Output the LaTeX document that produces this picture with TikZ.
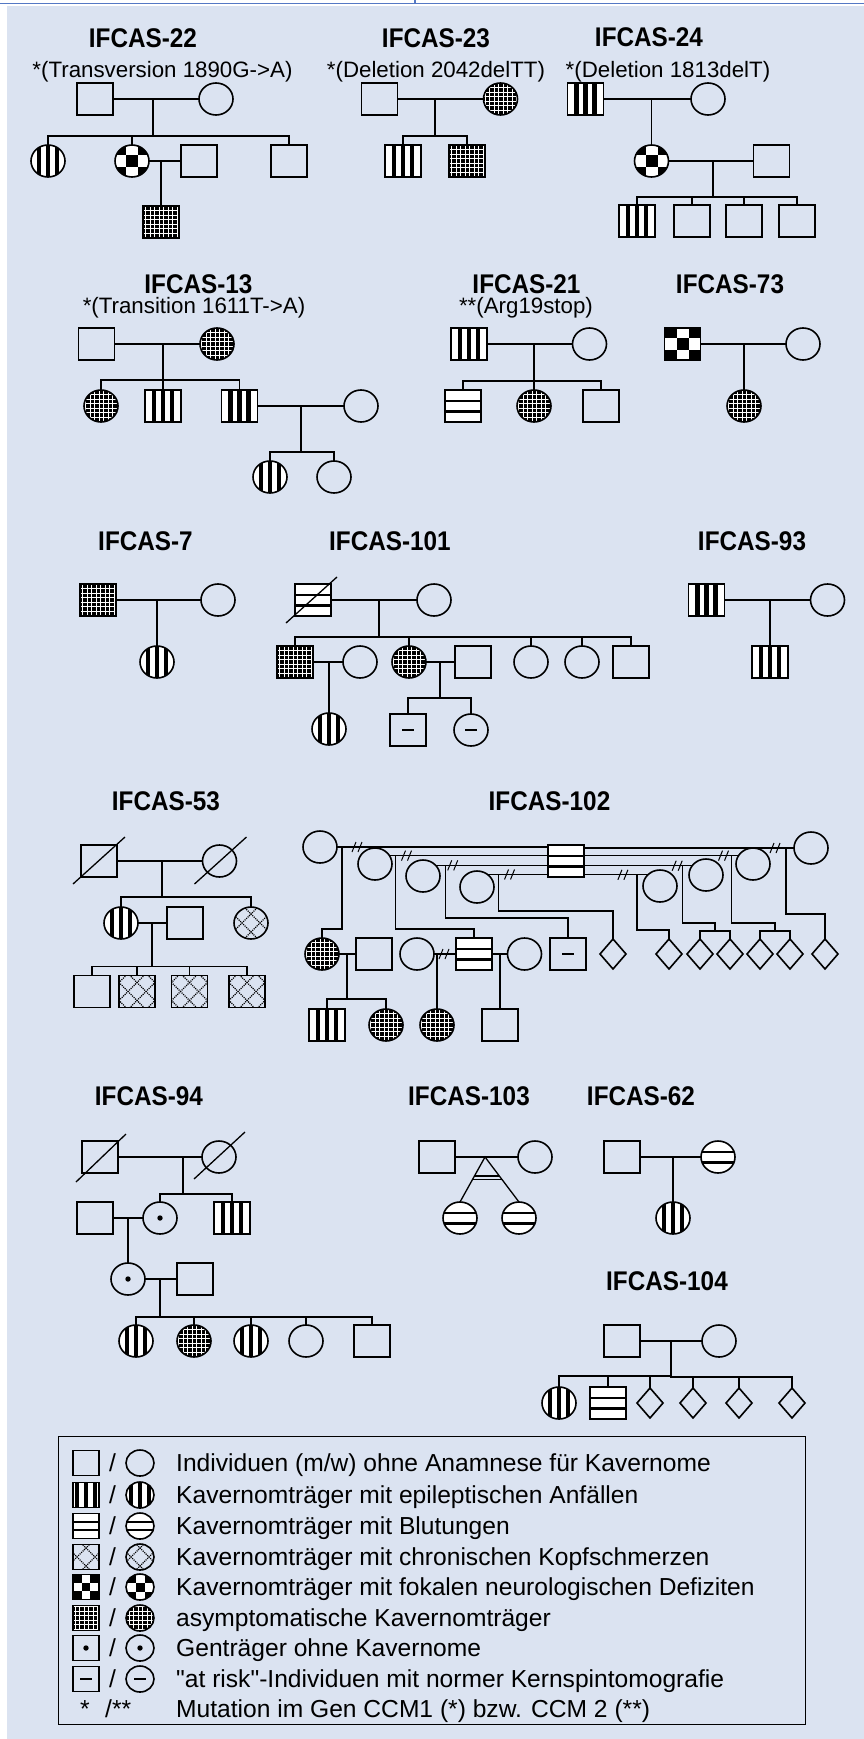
\documentclass[tikz,border=0pt]{standalone}
\usepackage{fontspec}
\setmainfont{Liberation Sans}
\newfontfamily\qfont{Liberation Sans}
\newfontfamily\ttlfont{Liberation Sans Bold}[FakeStretch=0.9]
\usetikzlibrary{shapes.geometric, calc}
\definecolor{bgblue}{RGB}{219,227,241}
\definecolor{rulblue}{RGB}{84,120,196}

\begin{document}
\begin{tikzpicture}[x=1pt, y=-1pt,
    sym/.style={draw, line width=1.6pt, inner sep=0pt, outer sep=0pt},
    male/.style={sym, rectangle, minimum width=36pt, minimum height=32pt},
    fem/.style={sym, ellipse, minimum width=34pt, minimum height=32pt},
    unk/.style={sym, diamond, minimum width=26pt, minimum height=30pt},
    lmale/.style={sym, rectangle, minimum width=26pt, minimum height=25pt},
    lfem/.style={sym, ellipse, minimum width=28pt, minimum height=26pt},
    epi/.style={fill=white, path picture={
        \foreach \d in {-9,0,9}
          \fill[black] ([xshift=\d-2.2]path picture bounding box.north) rectangle ([xshift=\d+2.2]path picture bounding box.south);}},
    bleed/.style={fill=white, path picture={
        \draw[black, line width=2.4pt] ([yshift=#1]path picture bounding box.west) -- ([yshift=#1]path picture bounding box.east)
          ([yshift=-#1]path picture bounding box.west) -- ([yshift=-#1]path picture bounding box.east);}},
    bleed/.default=5.3,
    focal/.style={fill=white, path picture={
        \foreach \i/\j in {-1/-1,1/-1,0/0,-1/1,1/1}
          \fill[black] ([xshift=\i*#1-#1/2, yshift=\j*#1-#1/2]path picture bounding box.center) rectangle ++(#1pt,#1pt);}},
    focal/.default=12,
    asym/.style={fill=black, path picture={
        \foreach \k in {-20,-15.5,...,20} {
          \draw[white, line width=0.85pt] ([xshift=\k]path picture bounding box.north) -- ([xshift=\k]path picture bounding box.south);
          \draw[white, line width=0.85pt] ([yshift=\k]path picture bounding box.west) -- ([yshift=\k]path picture bounding box.east);}}},
    ache/.style={path picture={
        \foreach \c in {-27,-9,9,27} {
          \draw[black, densely dotted, line width=1.1pt] ([xshift=\c-30, yshift=-30]path picture bounding box.center) -- ([xshift=\c+30, yshift=30]path picture bounding box.center);
          \draw[black, densely dotted, line width=1.1pt] ([xshift=\c-30, yshift=30]path picture bounding box.center) -- ([xshift=\c+30, yshift=-30]path picture bounding box.center);}}},
    carrier/.style={path picture={\fill[black] (path picture bounding box.center) circle (2.7pt);}},
    risk/.style={path picture={\draw[black, line width=1.6pt] ([xshift=-6]path picture bounding box.center) -- ([xshift=6]path picture bounding box.center);}},
    ln/.style={line width=1.3pt},
    brk/.pic={\draw[line width=1pt] (-5,5) -- (-1,-5) (1,5) -- (5,-5);},
    ttl/.style={font=\fontsize{27}{30}\ttlfont, inner sep=0pt, anchor=base},
    note/.style={font=\fontsize{22.3}{26}\selectfont, inner sep=0pt, anchor=base},
    lgd/.style={font=\fontsize{24.6}{28}\selectfont, inner sep=0pt, anchor=base west}
  ]
  \useasboundingbox (0,0) rectangle (864,1739);
  \fill[white] (0,0) rectangle (864,1739);
  \fill[bgblue] (7,6) rectangle (864,1739);
  \draw[rulblue, line width=1.2pt] (0,3.5) -- (864,3.5) (415,0) -- (415,3.5);

  % IFCAS-22
  \node[ttl] (t22) at (143,48) {IFCAS-22};
  \node[note] (n22) at (162.5,78) {*(Transversion 1890G->A)};
  \node[male] (a22f) at (95,99) {};
  \node[fem] (a22m) at (216,99) {};
  \node[fem, epi] (a22c1) at (48,161) {};
  \node[fem, focal] (a22c2) at (132,161) {};
  \node[male] (a22s) at (199,161) {};
  \node[male] (a22c3) at (289,161) {};
  \node[male, asym] (a22g) at (161,222) {};
  \coordinate (a22j) at (153,99);
  \coordinate (a22k) at (161,161);
  \draw[ln] (a22f) -- (a22m) (a22c2) -- (a22s);
  \draw[ln] (a22j) |- ([yshift=9]a22c1.north) -- (a22c1.north);
  \draw[ln] (a22j) |- ([yshift=9]a22c3.north) -- (a22c3.north);
  \draw[ln] (a22c2.north) -- ++(0,-9);
  \draw[ln] (a22k) -- (a22g.north);

  % IFCAS-23
  \node[ttl] (t23) at (436,48) {IFCAS-23};
  \node[note] (n23) at (436,78) {*(Deletion 2042delTT)};
  \node[male] (b23f) at (379.5,99) {};
  \node[fem, asym] (b23m) at (500.5,99) {};
  \node[male, epi] (b23c1) at (403,161) {};
  \node[male, asym] (b23c2) at (467,161) {};
  \coordinate (b23j) at (435,99);
  \draw[ln] (b23f) -- (b23m);
  \draw[ln] (b23j) |- ([yshift=9]b23c1.north) -- (b23c1.north);
  \draw[ln] (b23j) |- ([yshift=9]b23c2.north) -- (b23c2.north);

  % IFCAS-24
  \node[ttl] (t24) at (649,47) {IFCAS-24};
  \node[note] (n24) at (668,78) {*(Deletion 1813delT)};
  \node[male, epi] (c24f) at (585.5,99) {};
  \node[fem] (c24m) at (708,99) {};
  \node[fem, focal] (c24d) at (651.5,161) {};
  \node[male] (c24s) at (771.5,161) {};
  \node[male, epi] (c24c1) at (637,221) {};
  \node[male] (c24c2) at (692,221) {};
  \node[male] (c24c3) at (744,221) {};
  \node[male] (c24c4) at (797,221) {};
  \coordinate (c24j) at (651.5,99);
  \coordinate (c24k) at (713,161);
  \draw[ln] (c24f) -- (c24m) (c24d) -- (c24s);
  \draw[ln] (c24j) -- (c24d.north);
  \draw[ln] (c24k) |- ([yshift=8]c24c1.north) -- (c24c1.north);
  \draw[ln] (c24k) |- ([yshift=8]c24c4.north) -- (c24c4.north);
  \draw[ln] (c24c2.north) -- ++(0,-8) (c24c3.north) -- ++(0,-8);

  % IFCAS-13
  \node[ttl] (t13) at (198.5,293) {IFCAS-13};
  \node[note] (n13) at (194,313) {*(Transition 1611T->A)};
  \node[male] (d13f) at (96.5,344) {};
  \node[fem, asym] (d13m) at (217,344) {};
  \node[fem, asym] (d13c1) at (101,406) {};
  \node[male, epi] (d13c2) at (163,406) {};
  \node[male, epi] (d13c3) at (239.5,406) {};
  \node[fem] (d13s) at (361,406) {};
  \node[fem, epi] (d13g1) at (270,477) {};
  \node[fem] (d13g2) at (334,477) {};
  \coordinate (d13j) at (163,344);
  \coordinate (d13k) at (301,406);
  \draw[ln] (d13f) -- (d13m) (d13c3) -- (d13s);
  \draw[ln] (d13j) |- ([yshift=10]d13c1.north) -- (d13c1.north);
  \draw[ln] (d13j) |- ([yshift=10]d13c3.north) -- (d13c3.north);
  \draw[ln] (d13c2.north) -- ++(0,-10);
  \draw[ln] (d13k) |- ([yshift=9]d13g1.north) -- (d13g1.north);
  \draw[ln] (d13k) |- ([yshift=9]d13g2.north) -- (d13g2.north);

  % IFCAS-21
  \node[ttl] (t21) at (526.5,293) {IFCAS-21};
  \node[note] (n21) at (526,313) {**(Arg19stop)};
  \node[male, epi] (e21f) at (469,344) {};
  \node[fem] (e21m) at (589.5,344) {};
  \node[male, bleed] (e21c1) at (463,406) {};
  \node[fem, asym] (e21c2) at (534,406) {};
  \node[male] (e21c3) at (601,406) {};
  \coordinate (e21j) at (534,344);
  \draw[ln] (e21f) -- (e21m);
  \draw[ln] (e21j) |- ([yshift=9]e21c1.north) -- (e21c1.north);
  \draw[ln] (e21j) |- ([yshift=9]e21c3.north) -- (e21c3.north);
  \draw[ln] (e21j) -- (e21c2.north);

  % IFCAS-73
  \node[ttl] (t73) at (730,293) {IFCAS-73};
  \node[male, focal] (g73f) at (682.5,344) {};
  \node[fem] (g73m) at (803,344) {};
  \node[fem, asym] (g73c) at (744,406) {};
  \coordinate (g73j) at (744,344);
  \draw[ln] (g73f) -- (g73m);
  \draw[ln] (g73j) -- (g73c.north);

  % IFCAS-7
  \node[ttl] (t7) at (145.5,550) {IFCAS-7};
  \node[male, asym] (h7f) at (98,600) {};
  \node[fem] (h7m) at (218,600) {};
  \node[fem, epi] (h7c) at (157,662) {};
  \coordinate (h7j) at (157,600);
  \draw[ln] (h7f) -- (h7m);
  \draw[ln] (h7j) -- (h7c.north);

  % IFCAS-101
  \node[ttl] (t101) at (390,550) {IFCAS-101};
  \node[male, bleed] (i101f) at (313,600) {};
  \node[fem] (i101m) at (434,600) {};
  \node[male, asym] (i101c1) at (295,662) {};
  \node[fem] (i101s1) at (360,662) {};
  \node[fem, asym] (i101c2) at (409,662) {};
  \node[male] (i101s2) at (473,662) {};
  \node[fem] (i101c3) at (531,662) {};
  \node[fem] (i101c4) at (582,662) {};
  \node[male] (i101c5) at (631,662) {};
  \node[fem, epi] (i101g1) at (329,729) {};
  \node[male, risk] (i101g2) at (408,730) {};
  \node[fem, risk] (i101g3) at (471,730) {};
  \coordinate (i101j) at (379,600);
  \coordinate (i101k) at (329,662);
  \coordinate (i101l) at (440,662);
  \draw[ln] (i101f) -- (i101m) (i101c1) -- (i101s1) (i101c2) -- (i101s2);
  \draw[ln] ([shift={(-27,23)}]i101f.center) -- ([shift={(24,-23)}]i101f.center);
  \draw[ln] (i101j) |- ([yshift=9]i101c1.north) -- (i101c1.north);
  \draw[ln] (i101j) |- ([yshift=9]i101c5.north) -- (i101c5.north);
  \draw[ln] (i101c2.north) -- ++(0,-9) (i101c3.north) -- ++(0,-9) (i101c4.north) -- ++(0,-9);
  \draw[ln] (i101k) -- (i101g1.north);
  \draw[ln] (i101l) |- ([yshift=16]i101g2.north) -- (i101g2.north);
  \draw[ln] (i101l) |- ([yshift=16]i101g3.north) -- (i101g3.north);

  % IFCAS-93
  \node[ttl] (t93) at (752,550) {IFCAS-93};
  \node[male, epi] (j93f) at (706.5,600) {};
  \node[fem] (j93m) at (827.5,600) {};
  \node[male, epi] (j93c) at (770,662) {};
  \coordinate (j93j) at (770,600);
  \draw[ln] (j93f) -- (j93m);
  \draw[ln] (j93j) -- (j93c.north);

  % IFCAS-53
  \node[ttl] (t53) at (166,810) {IFCAS-53};
  \node[male] (k53f) at (99,861) {};
  \node[fem] (k53m) at (219.5,861) {};
  \node[fem, epi] (k53c1) at (121,923) {};
  \node[male] (k53s) at (185,923) {};
  \node[fem, ache] (k53c2) at (251,923) {};
  \node[male] (k53g1) at (92,991.5) {};
  \node[male, ache] (k53g2) at (137,991.5) {};
  \node[male, ache] (k53g3) at (189.5,991.5) {};
  \node[male, ache] (k53g4) at (247,991.5) {};
  \coordinate (k53j) at (162,861);
  \coordinate (k53k) at (152,923);
  \draw[ln] (k53f) -- (k53m) (k53c1) -- (k53s);
  \draw[ln] ([shift={(-26,23)}]k53f.center) -- ([shift={(26,-24)}]k53f.center);
  \draw[ln] ([shift={(-25,23)}]k53m.center) -- ([shift={(27,-24)}]k53m.center);
  \draw[ln] (k53j) |- ([yshift=10]k53c1.north) -- (k53c1.north);
  \draw[ln] (k53j) |- ([yshift=10]k53c2.north) -- (k53c2.north);
  \draw[ln] (k53k) |- ([yshift=9]k53g1.north) -- (k53g1.north);
  \draw[ln] (k53k) |- ([yshift=9]k53g4.north) -- (k53g4.north);
  \draw[ln] (k53g2.north) -- ++(0,-9) (k53g3.north) -- ++(0,-9);

  % IFCAS-102
  \node[ttl] (t102) at (549.5,810) {IFCAS-102};
  \node[male, bleed] (m102) at (566,861) {};
  \node[fem] (cA) at (320,847) {};
  \node[fem] (cB) at (375,864) {};
  \node[fem] (cC) at (423,876) {};
  \node[fem] (cD) at (477,887) {};
  \node[fem] (cE) at (660,886) {};
  \node[fem] (cG) at (706,875) {};
  \node[fem] (cF) at (753,864) {};
  \node[fem] (cH) at (811,848) {};
  \draw[ln] (cA.east) -- (cA.east -| m102.west) (cB.30) -- (cB.30 -| m102.west)
    (cC.40) -- (cC.40 -| m102.west) (cD.50) -- (cD.50 -| m102.west);
  \draw[ln] (cH.west) -- (cH.west -| m102.east) (cF.150) -- (cF.150 -| m102.east)
    (cG.146) -- (cG.146 -| m102.east) (cE.137) -- (cE.137 -| m102.east);
  \pic at ([xshift=20]cA.east) {brk};
  \pic at ([xshift=17]cB.30) {brk};
  \pic at ([xshift=17]cC.40) {brk};
  \pic at ([xshift=22]cD.50) {brk};
  \pic at ([xshift=-25]cE.137) {brk};
  \pic at ([xshift=-15]cG.146) {brk};
  \pic at ([xshift=-15]cF.150) {brk};
  \pic at ([xshift=-19]cH.west) {brk};
  \node[fem, asym] (n1) at (322,954) {};
  \node[male] (n2) at (374,954) {};
  \node[fem] (n3) at (417,954) {};
  \node[male, bleed] (n4) at (474,954) {};
  \node[fem] (n5) at (524.5,954) {};
  \node[male, risk] (n6) at (568,954) {};
  \node[unk] (p1) at (613,954) {};
  \node[unk] (p2) at (669,954) {};
  \node[unk] (p3) at (700,954) {};
  \node[unk] (p4) at (730,954) {};
  \node[unk] (p5) at (760,954) {};
  \node[unk] (p6) at (790,954) {};
  \node[unk] (p7) at (825,954) {};
  \node[male, epi] (r1) at (327,1025) {};
  \node[fem, asym] (r2) at (386,1025) {};
  \node[fem, asym] (r3) at (437,1025) {};
  \node[male] (r4) at (500,1025) {};
  \draw[ln] ([xshift=5]cA.east) |- ([yshift=9]n1.north) -- (n1.north);
  \draw[ln] ([xshift=6]cB.30) |- ([yshift=9]n4.north) -- (n4.north);
  \draw[ln] ([xshift=10]cC.40) |- ([yshift=20]n6.north) -- (n6.north);
  \draw[ln] ([xshift=11]cD.50) |- ([yshift=28]p1.north) -- (p1.north);
  \draw[ln] ([xshift=-11]cE.137) |- ([yshift=9]p2.north) -- (p2.north);
  \draw[ln] ([xshift=-10]cG.146) |- ([yshift=16]$(p3.north)!0.5!(p4.north)$) -- ++(0,8);
  \draw[ln] (p3.north) |- ([yshift=8]p4.north) -- (p4.north);
  \draw[ln] ([xshift=-7]cF.150) |- ([yshift=16]$(p5.north)!0.5!(p6.north)$) -- ++(0,8);
  \draw[ln] (p5.north) |- ([yshift=8]p6.north) -- (p6.north);
  \draw[ln] ([xshift=-8]cH.west) |- ([yshift=25]p7.north) -- (p7.north);
  \coordinate (n12) at (347,954);
  \coordinate (n34) at (437,954);
  \coordinate (n45) at (500,954);
  \draw[ln] (n1) -- (n2) (n3) -- (n4) (n4) -- (n5);
  \pic at (444,954) {brk};
  \draw[ln] (n12) |- ([yshift=10]r1.north) -- (r1.north);
  \draw[ln] (n12) |- ([yshift=10]r2.north) -- (r2.north);
  \draw[ln] (n34) -- (r3.north);
  \draw[ln] (n45) -- (r4.north);

  % IFCAS-94
  \node[ttl] (t94) at (149,1105) {IFCAS-94};
  \node[male] (l94f) at (100,1157) {};
  \node[fem] (l94m) at (219,1157) {};
  \node[male] (l94s) at (95,1218) {};
  \node[fem, carrier] (l94c1) at (160,1218) {};
  \node[male, epi] (l94c2) at (232,1218) {};
  \node[fem, carrier] (l94d) at (128,1279) {};
  \node[male] (l94s2) at (195,1279) {};
  \node[fem, epi] (l94g1) at (136,1341) {};
  \node[fem, asym] (l94g2) at (194,1341) {};
  \node[fem, epi] (l94g3) at (251,1341) {};
  \node[fem] (l94g4) at (306,1341) {};
  \node[male] (l94g5) at (372,1341) {};
  \coordinate (l94j) at (183,1157);
  \coordinate (l94k) at (128,1218);
  \coordinate (l94l) at (160,1279);
  \draw[ln] (l94f) -- (l94m) (l94s) -- (l94c1) (l94d) -- (l94s2);
  \draw[ln] ([shift={(-24,25)}]l94f.center) -- ([shift={(26,-23)}]l94f.center);
  \draw[ln] ([shift={(-25,22)}]l94m.center) -- ([shift={(26,-25)}]l94m.center);
  \draw[ln] (l94j) |- ([yshift=8]l94c1.north) -- (l94c1.north);
  \draw[ln] (l94j) |- ([yshift=8]l94c2.north) -- (l94c2.north);
  \draw[ln] (l94k) -- (l94d.north);
  \draw[ln] (l94l) |- ([yshift=8]l94g1.north) -- (l94g1.north);
  \draw[ln] (l94l) |- ([yshift=8]l94g5.north) -- (l94g5.north);
  \draw[ln] (l94g2.north) -- ++(0,-8) (l94g3.north) -- ++(0,-8) (l94g4.north) -- ++(0,-8);

  % IFCAS-103
  \node[ttl] (t103) at (469,1105) {IFCAS-103};
  \node[male] (o103f) at (437,1157) {};
  \node[fem] (o103m) at (535,1157) {};
  \node[fem, bleed] (o103c1) at (460,1218) {};
  \node[fem, bleed] (o103c2) at (519,1218) {};
  \coordinate (o103j) at (485,1157);
  \draw[ln] (o103f) -- (o103m);
  \draw[ln] (o103c1.north) -- (o103j) -- (o103c2.north);
  \draw[ln] ($(o103j)!0.42!(o103c1.north)$) -- ($(o103j)!0.42!(o103c2.north)$);
  \draw[ln] ($(o103j)!0.5!(o103c1.north)$) -- ($(o103j)!0.5!(o103c2.north)$);

  % IFCAS-62
  \node[ttl] (t62) at (641,1105) {IFCAS-62};
  \node[male] (q62f) at (622,1157) {};
  \node[fem, bleed] (q62m) at (718,1157) {};
  \node[fem, epi] (q62c) at (673,1218) {};
  \coordinate (q62j) at (673,1157);
  \draw[ln] (q62f) -- (q62m);
  \draw[ln] (q62j) -- (q62c.north);

  % IFCAS-104
  \node[ttl] (t104) at (667,1290) {IFCAS-104};
  \node[male] (u104f) at (622,1341) {};
  \node[fem] (u104m) at (719,1341) {};
  \node[fem, epi] (u104c1) at (559,1403) {};
  \node[male, bleed] (u104c2) at (608,1403) {};
  \node[unk] (u104c3) at (650,1403) {};
  \node[unk] (u104c4) at (693,1403) {};
  \node[unk] (u104c5) at (739,1403) {};
  \node[unk] (u104c6) at (792,1403) {};
  \coordinate (u104j) at (671,1341);
  \draw[ln] (u104f) -- (u104m);
  \draw[ln] (u104j) |- ([yshift=11]u104c1.north) -- (u104c1.north);
  \draw[ln] (u104j) |- ([yshift=11]u104c6.north) -- (u104c6.north);
  \draw[ln] (u104c2.north) -- ++(0,-11) (u104c3.north) -- ++(0,-11)
    (u104c4.north) -- ++(0,-11) (u104c5.north) -- ++(0,-11);

  % legend
  \node[draw, line width=1.2pt, minimum width=747pt, minimum height=288pt, anchor=north west, inner sep=0pt] (lgbox) at (58,1436) {};
  \node[lmale] (lm1) at (86,1463) {};
  \node[lfem] (lf1) at (140,1463) {};
  \node[lgd] (lt1) at (176,1471.5) {Individuen (m/w) ohne Anamnese für Kavernome};
  \node[lmale, epi] (lm2) at (86,1495) {};
  \node[lfem, epi] (lf2) at (140,1495) {};
  \node[lgd] (lt2) at (176,1503.5) {Kavernomträger mit epileptischen Anfällen};
  \node[lmale, bleed=4.2] (lm3) at (86,1526) {};
  \node[lfem, bleed=4.2] (lf3) at (140,1526) {};
  \node[lgd] (lt3) at (176,1534.5) {Kavernomträger mit Blutungen};
  \node[lmale, ache] (lm4) at (86,1557) {};
  \node[lfem, ache] (lf4) at (140,1557) {};
  \node[lgd] (lt4) at (176,1565.5) {Kavernomträger mit chronischen Kopfschmerzen};
  \node[lmale, focal=8.7] (lm5) at (86,1587) {};
  \node[lfem, focal=9] (lf5) at (140,1587) {};
  \node[lgd] (lt5) at (176,1595.5) {Kavernomträger mit fokalen neurologischen Defiziten};
  \node[lmale, asym] (lm6) at (86,1618) {};
  \node[lfem, asym] (lf6) at (140,1618) {};
  \node[lgd] (lt6) at (176,1626.5) {asymptomatische Kavernomträger};
  \node[lmale, carrier] (lm7) at (86,1648) {};
  \node[lfem, carrier] (lf7) at (140,1648) {};
  \node[lgd] (lt7) at (176,1656.5) {Genträger ohne Kavernome};
  \node[lmale, risk] (lm8) at (86,1679) {};
  \node[lfem, risk] (lf8) at (140,1679) {};
  \node[lgd] (lt8) at (176,1687.5) {\qfont "at risk"-Individuen mit normer Kernspintomografie};
  \node[lgd] (lm9) at (80,1717.5) {*};
  \node[lgd] (lf9) at (105,1717.5) {/**};
  \node[lgd] (lt9) at (176,1717.5) {Mutation im Gen CCM1 (*) bzw. CCM 2 (**)};
  \foreach \r/\yy in {1/1471.5,2/1503.5,3/1534.5,4/1565.5,5/1595.5,6/1626.5,7/1656.5,8/1687.5}
    \node[lgd] (lsl\r) at (109,\yy) {/};
\end{tikzpicture}
\end{document}
